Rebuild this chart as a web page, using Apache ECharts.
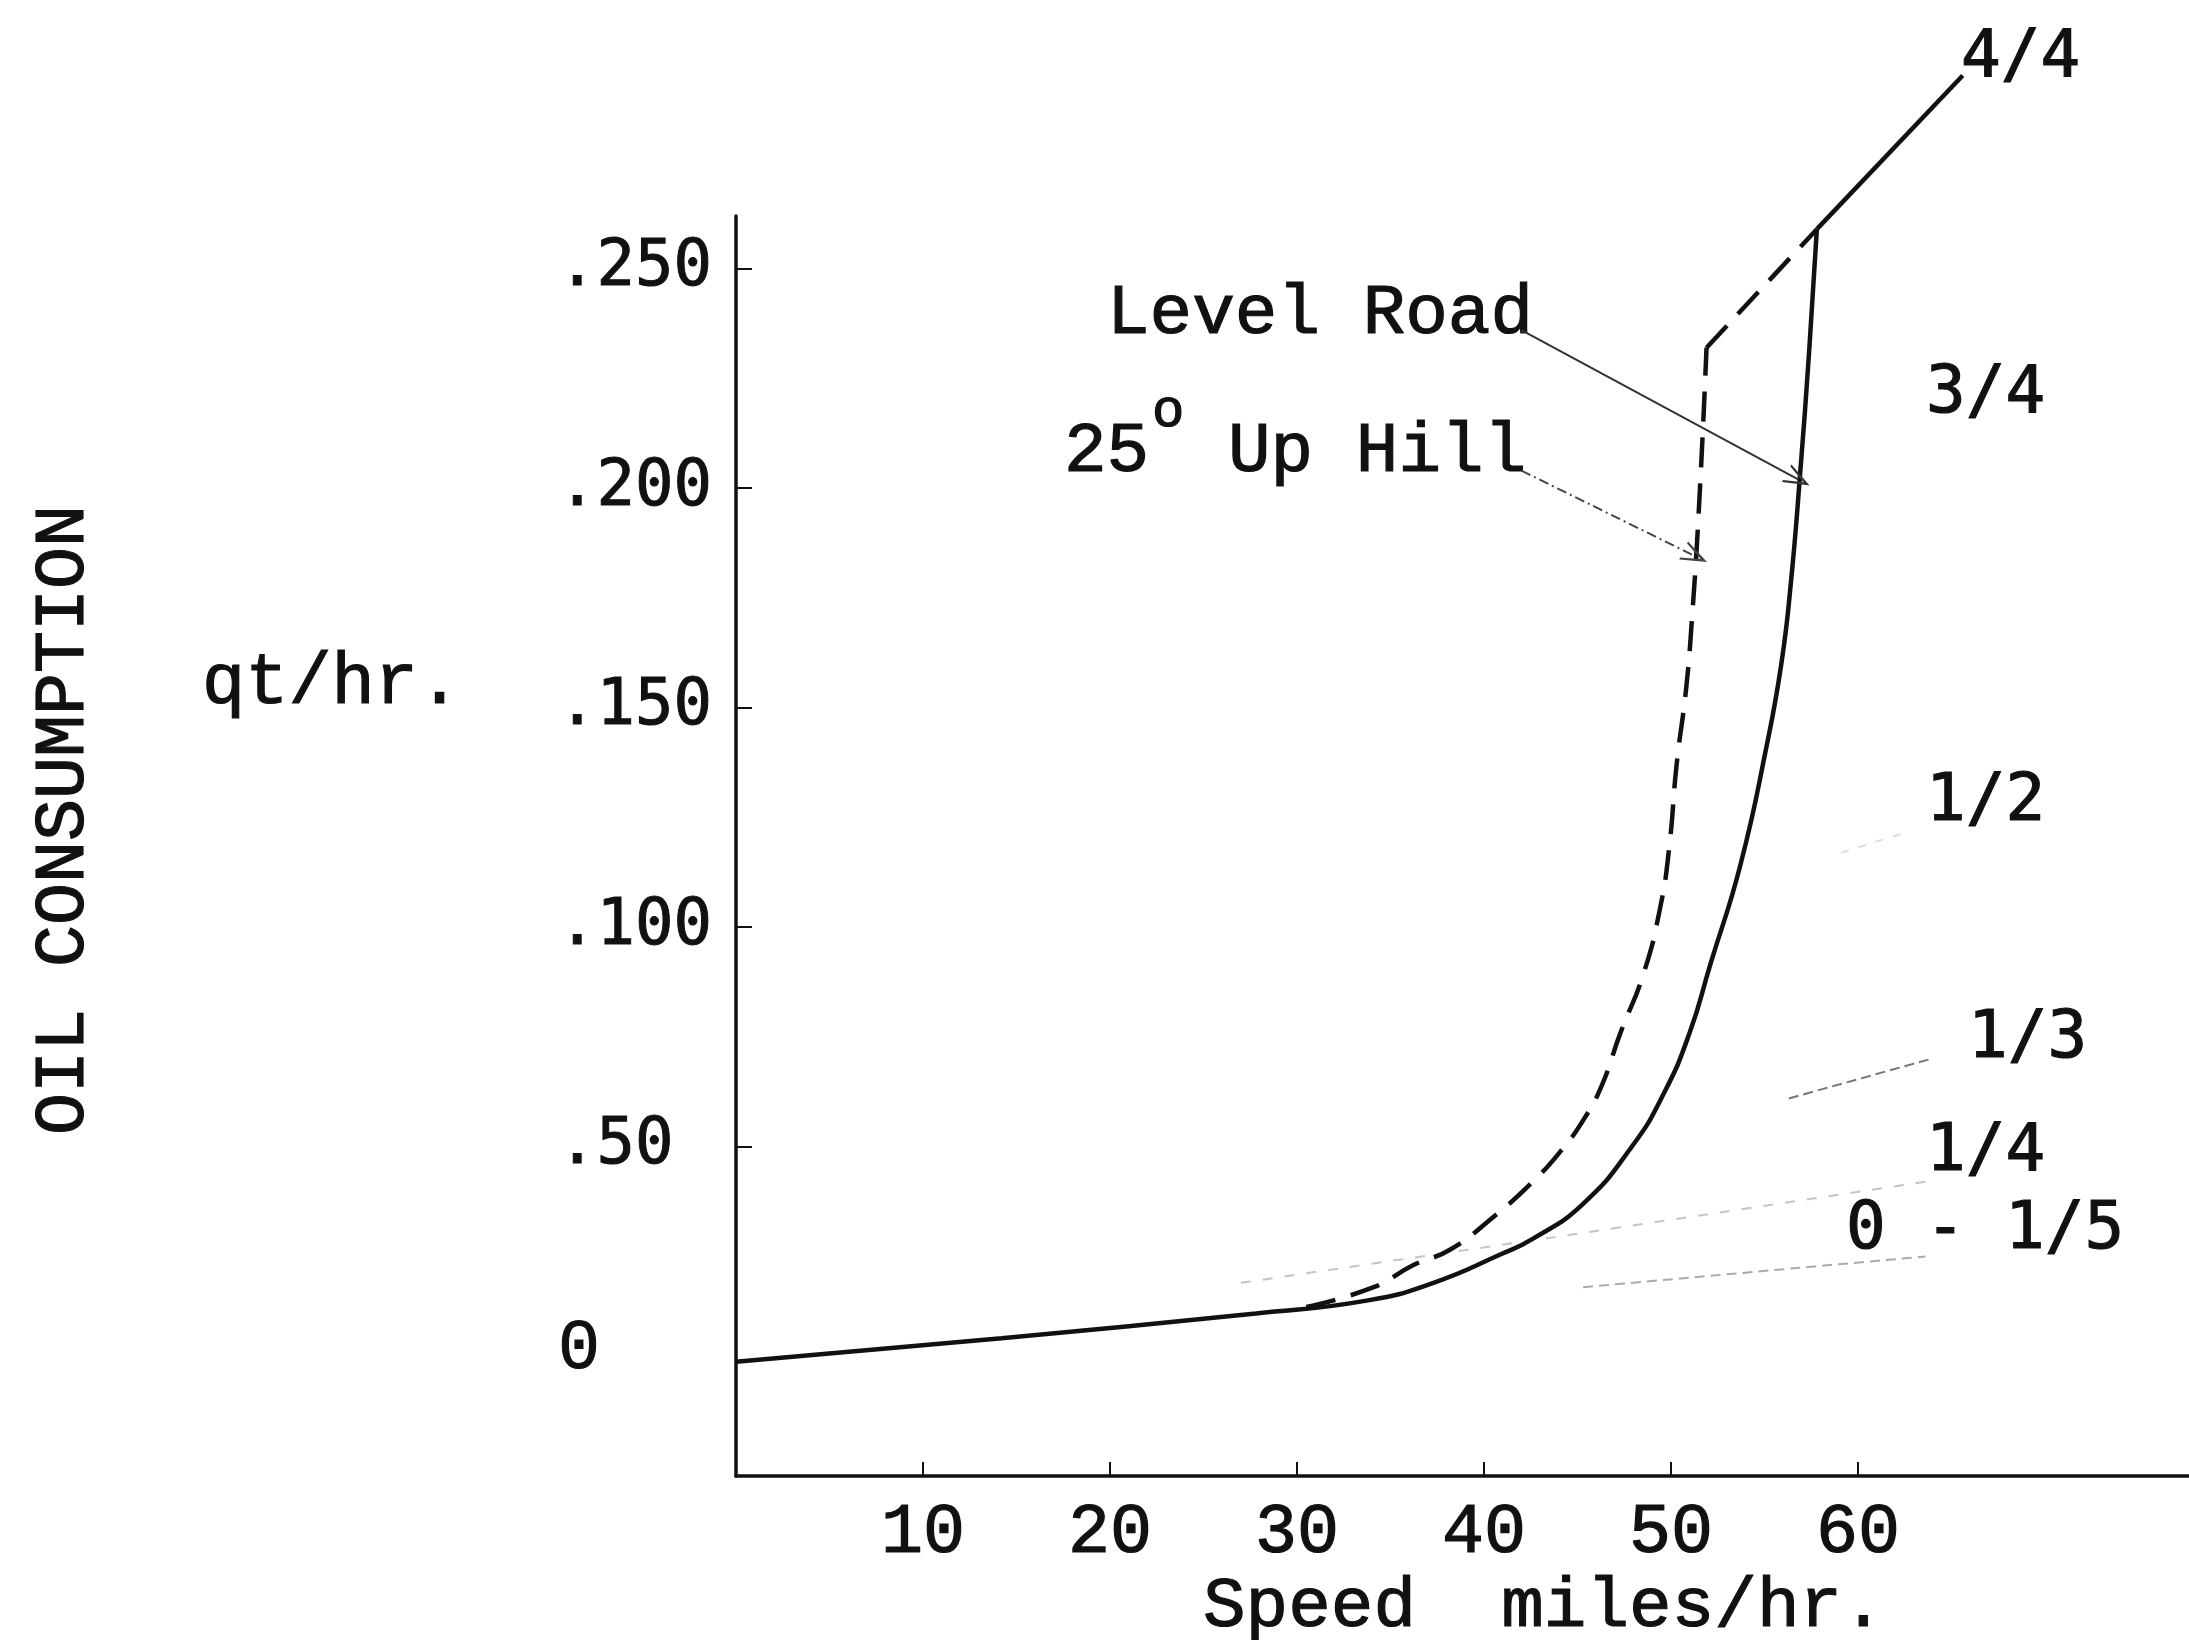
<!DOCTYPE html>
<html>
<head>
<meta charset="utf-8">
<title>Oil consumption</title>
<script src="https://cdn.jsdelivr.net/npm/echarts@6/dist/echarts.min.js"></script>
<style>
  html, body { margin: 0; padding: 0; background: #fff; }
  #chart { width: 2189px; height: 1640px; }
</style>
</head>
<body>
<div id="chart"></div>
<script>
// speed (miles/hr) , oil consumption (qt/hr)
const levelRoad = [[0, 0.001], [14.2, 0.0064], [27.8, 0.012], [33.8, 0.015], [37.3, 0.019],
  [40.9, 0.0255], [42.6, 0.029], [45.3, 0.037], [47.9, 0.050], [49.6, 0.062], [51.0, 0.076], [52.1, 0.0915],
  [53.7, 0.114], [55.1, 0.141], [55.9, 0.160], [56.4, 0.178], [56.9, 0.203], [57.4, 0.232], [57.8, 0.259]];
const fullLoad = [[57.8, 0.259], [65.6, 0.294]];
const upHill = [[30.5, 0.0135], [34.1, 0.018], [36.2, 0.023], [38.2, 0.0266], [40.5, 0.034], [42.6, 0.042],
  [44.1, 0.049], [45.3, 0.056], [46.3, 0.064], [47.3, 0.076], [48.5, 0.089], [49.4, 0.104], [49.9, 0.118],
  [50.3, 0.137], [50.8, 0.154], [51.1, 0.169], [51.5, 0.196], [51.9, 0.232]];
const upHillTop = [[51.9, 0.232], [57.8, 0.259]];

// faint guide lines toward the load fractions
const guide13 = [[56.3, 0.061], [63.9, 0.070]];
const guide14 = [[27.0, 0.019], [43.1, 0.029], [63.6, 0.042]];
const guide15 = [[45.3, 0.018], [63.6, 0.025]];
const guide12 = [[59.1, 0.117], [62.5, 0.1215]];

// annotation arrows (start, tip)
const levelArrow = [[42.0, 0.236], [56.8, 0.202]];
const upHillArrow = [[42.0, 0.204], [51.3, 0.1845]];

const xTicks = [10, 20, 30, 40, 50, 60];
const yTickValues = [0, 0.05, 0.1, 0.15, 0.2, 0.25];
const yTickLabels = ['0', '.50', '.100', '.150', '.200', '.250'];

const courier = 'Liberation Mono';
const sansMono = 'DejaVu Sans Mono';
const ink = '#111';
const chevron = 'path://M0,12 L6,0 L12,12 L10.6,12 L6,3.2 L1.4,12 Z';

let chartDom = document.getElementById('chart');
let myChart = echarts.init(chartDom);

function txt(text, x, y, size, family, extra) {
  let el = {
    type: 'text', x: x, y: y, silent: true,
    style: { text: text, fontSize: size, fontFamily: family, fill: ink, stroke: ink, lineWidth: 1.2,
      align: 'left', verticalAlign: 'middle' }
  };
  if (extra) {
    if (extra.rotation !== undefined) el.rotation = extra.rotation;
    if (extra.align) el.style.align = extra.align;
  }
  return el;
}

let option = {
  animation: false,
  backgroundColor: '#fff',
  grid: { left: 736, right: 0, top: 216, bottom: 164, containLabel: false },
  xAxis: {
    type: 'value', min: 0, max: 77.7,
    axisLine: { show: true, onZero: false, lineStyle: { color: ink, width: 3.5 } },
    axisTick: { show: true, inside: true, length: 14, customValues: xTicks, lineStyle: { color: ink, width: 2 } },
    axisLabel: { customValues: xTicks, margin: 22, fontFamily: courier, fontSize: 70, color: ink,
      textBorderColor: ink, textBorderWidth: 1.2 },
    splitLine: { show: false }
  },
  yAxis: {
    type: 'value', min: -0.025, max: 0.262,
    axisLine: { show: true, onZero: false, lineStyle: { color: ink, width: 3.5 } },
    axisTick: { show: true, inside: true, length: 16, customValues: yTickValues.slice(1), lineStyle: { color: ink, width: 2 } },
    axisLabel: {
      customValues: yTickValues, align: 'left', margin: 178,
      fontFamily: sansMono, fontSize: 64, color: ink, textBorderColor: ink, textBorderWidth: 1,
      formatter: function (v) {
        for (let i = 0; i < yTickValues.length; i++) {
          if (Math.abs(v - yTickValues[i]) < 1e-6) {
            return i === 0 ? '{zero|' + yTickLabels[i] + '}' : yTickLabels[i];
          }
        }
        return '';
      },
      rich: {
        zero: { fontFamily: courier, fontSize: 70, color: ink, textBorderColor: ink, textBorderWidth: 1,
          padding: [0, 0, 34, 0] }
      }
    },
    splitLine: { show: false }
  },
  series: [
    { name: 'guide 1/2', type: 'line', data: guide12, symbol: 'none', silent: true,
      lineStyle: { color: '#ddd', width: 2, type: [8, 10] } },
    { name: 'guide 1/3', type: 'line', data: guide13, symbol: 'none', silent: true,
      lineStyle: { color: '#777', width: 2, type: [10, 5] } },
    { name: 'guide 1/4', type: 'line', data: guide14, symbol: 'none', silent: true,
      lineStyle: { color: '#c4c4c4', width: 2, type: [10, 12] } },
    { name: 'guide 0-1/5', type: 'line', data: guide15, symbol: 'none', silent: true,
      lineStyle: { color: '#aaa', width: 2, type: [10, 6] } },
    {
      name: 'Level Road', type: 'line', data: levelRoad, symbol: 'none', smooth: 0.5, clip: false, silent: true,
      lineStyle: { color: ink, width: 4.5 },
      markLine: {
        silent: true, animation: false, symbol: ['none', chevron], symbolSize: [20, 26],
        label: { show: false },
        lineStyle: { color: '#333', width: 2, type: 'solid' },
        data: [[{ coord: levelArrow[0] }, { coord: levelArrow[1] }]]
      }
    },
    { name: '4/4', type: 'line', data: fullLoad, symbol: 'none', clip: false, silent: true,
      lineStyle: { color: ink, width: 4.5 } },
    {
      name: '25 Up Hill', type: 'line', data: upHill, symbol: 'none', smooth: 0.5, clip: false, silent: true,
      lineStyle: { color: ink, width: 4.5, type: [30, 16] },
      markLine: {
        silent: true, animation: false, symbol: ['none', chevron], symbolSize: [20, 26],
        label: { show: false },
        lineStyle: { color: '#444', width: 2, type: [10, 4, 2, 4] },
        data: [[{ coord: upHillArrow[0] }, { coord: upHillArrow[1] }]]
      }
    },
    { name: 'Up Hill top', type: 'line', data: upHillTop, symbol: 'none', clip: false, silent: true,
      lineStyle: { color: ink, width: 4.5, type: [30, 16] } }
  ],
  graphic: [
    txt('OIL CONSUMPTION', 64, 820, 70, courier, { rotation: Math.PI / 2, align: 'center' }),
    txt('qt/hr.', 202, 684, 72, courier),
    txt('Speed  miles/hr.', 1203, 1607, 71, courier),
    txt('Level Road', 1107, 314, 71, courier),
    txt('25', 1064, 452, 71, courier),
    txt('o', 1152, 412, 54, courier),
    txt('Up Hill', 1228, 452, 71, courier),
    txt('4/4', 1961, 59, 66, sansMono),
    txt('3/4', 1926, 395, 66, sansMono),
    txt('1/2', 1926, 803, 66, sansMono),
    txt('1/3', 1968, 1040, 66, sansMono),
    txt('1/4', 1926, 1153, 66, sansMono),
    txt('0 - 1/5', 1846, 1231, 66, sansMono)
  ]
};

window.onresize = myChart.resize;
myChart.setOption(option);
</script>
</body>
</html>
